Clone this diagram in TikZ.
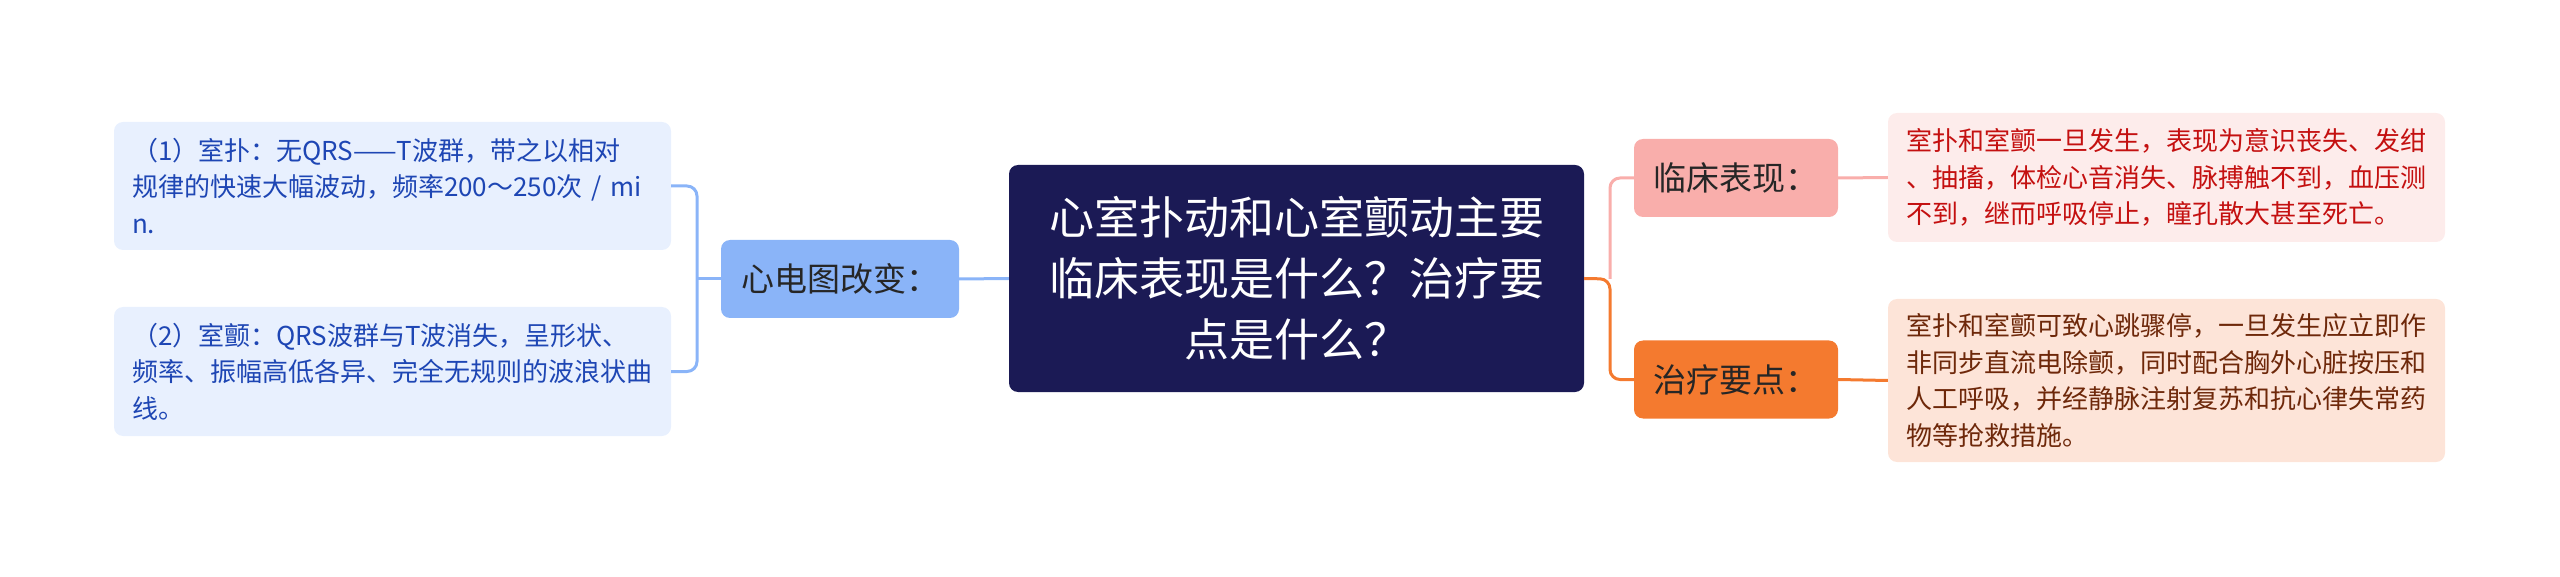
\documentclass[tikz,border=0pt]{standalone}
\usepackage{fontspec}
\setmainfont{Noto Sans CJK SC}
\definecolor{navy}{HTML}{1B1A55}
\definecolor{bluebox}{HTML}{8AB4F8}
\definecolor{bluefill}{HTML}{E8F0FE}
\definecolor{bluetext}{HTML}{1E46B4}
\definecolor{pinkbox}{HTML}{F9AEAB}
\definecolor{pinkfill}{HTML}{FDECEB}
\definecolor{redtext}{HTML}{C41010}
\definecolor{orangebox}{HTML}{F47A2F}
\definecolor{orangefill}{HTML}{FDE4D8}
\definecolor{browntext}{HTML}{6E280A}
\tikzset{
  box/.style={rectangle, rounded corners=9pt, inner sep=0pt, anchor=center},
  central/.style={box, fill=navy, text=white, minimum width=575pt, minimum height=227pt,
    align=center, font=\fontsize{45}{61}\selectfont},
  sub/.style={box, minimum width=204pt, minimum height=78pt, text=black!85,
    font=\fontsize{33}{38}\selectfont},
  leaf/.style={box, align=left, text width=521pt, inner xsep=18pt, inner ysep=0pt,
    font=\fontsize{26}{36.5}\selectfont},
  conn/.style={line width=3pt, rounded corners=10pt},
}
\begin{document}
\begin{tikzpicture}[x=1pt,y=-1pt]
\useasboundingbox (0,0) rectangle (2560,577);
\node[central] (c) at (1296.5,278.5) {心室扑动和心室颤动主要\\临床表现是什么？治疗要\\点是什么？};
\node[sub, fill=bluebox, minimum width=238pt] (xd) at (840,279) {心电图改变：};
\node[leaf, fill=bluefill, text=bluetext, minimum height=128pt] (l1) at (392.5,186) {（1）室扑：无QRS——T波群，带之以相对\\规律的快速大幅波动，频率200～250次 / mi\\n.};
\node[leaf, fill=bluefill, text=bluetext, minimum height=129pt] (l2) at (392.5,371.5) {（2）室颤：QRS波群与T波消失，呈形状、\\频率、振幅高低各异、完全无规则的波浪状曲\\线。};
\node[sub, fill=pinkbox] (lc) at (1736,178) {临床表现：};
\node[sub, fill=orangebox] (zl) at (1736,379.5) {治疗要点：};
\node[leaf, fill=pinkfill, text=redtext, minimum height=129pt] (d1) at (2166.5,177.5) {室扑和室颤一旦发生，表现为意识丧失、发绀\\、抽搐，体检心音消失、脉搏触不到，血压测\\不到，继而呼吸停止，瞳孔散大甚至死亡。};
\node[leaf, fill=orangefill, text=browntext, minimum height=163pt] (d2) at (2166.5,380.5) {室扑和室颤可致心跳骤停，一旦发生应立即作\\非同步直流电除颤，同时配合胸外心脏按压和\\人工呼吸，并经静脉注射复苏和抗心律失常药\\物等抢救措施。};
\coordinate (bx) at (697,279);
\coordinate (rj) at (1610,279);
\draw[conn, bluebox] (xd.east) -- (c.west);
\draw[conn, bluebox] (l1.east) -| (bx) |- (l2.east);
\draw[conn, bluebox] (bx) -- (xd.west);
\draw[conn, pinkbox] (rj) |- (lc.west);
\draw[conn, orangebox] (c.east) -- (rj) |- (zl.west);
\draw[conn, pinkbox] (lc.east) -- (d1.west);
\draw[conn, orangebox] (zl.east) -- (d2.west);
\end{tikzpicture}
\end{document}
